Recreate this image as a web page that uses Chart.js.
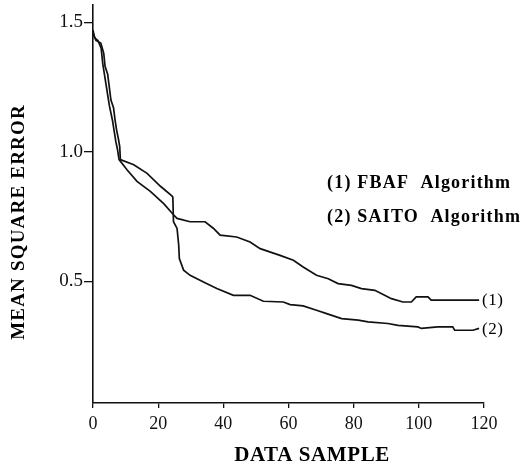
<!DOCTYPE html>
<html>
<head>
<meta charset="utf-8">
<script src="https://cdn.jsdelivr.net/npm/chart.js@4/dist/chart.umd.min.js"></script>
<style>
html,body{margin:0;padding:0;background:#fff;}
#wrap{width:521px;height:470px;}
</style>
</head>
<body>
<div id="wrap"><canvas id="c" width="521" height="470"></canvas></div>
<script>
// ---- data ----
const fbafSamples = [0, 0.5, 1.5, 2.5, 3, 3.5, 4, 4.5, 5, 5.5, 6, 6.5, 7, 7.5, 8, 10.5, 13.5, 17.6, 21.7, 24.7, 25.8, 29.8, 34.4, 37, 39, 44.1, 48.2, 51.3, 57.4, 61.5, 64.5, 68.6, 72.2, 75.2, 79.3, 82.4, 86.5, 89.5, 91.6, 95.1, 97.7, 99.2, 102.8, 103.8, 118.5];
const fbafMse = [1.47, 1.44, 1.43, 1.40, 1.34, 1.30, 1.26, 1.22, 1.18, 1.15, 1.12, 1.08, 1.04, 1.01, 0.97, 0.93, 0.886, 0.847, 0.80, 0.757, 0.743, 0.73, 0.73, 0.704, 0.678, 0.671, 0.652, 0.626, 0.60, 0.581, 0.555, 0.523, 0.51, 0.491, 0.484, 0.472, 0.465, 0.446, 0.433, 0.42, 0.42, 0.44, 0.44, 0.427, 0.427];

const saitoSamples = [0, 0.9, 2.4, 3.3, 3.7, 4.5, 5.0, 5.5, 6.3, 6.8, 7.3, 7.8, 8.2, 8.4, 12.5, 16.6, 20.7, 24.2, 24.5, 24.7, 25.8, 26.3, 26.5, 27.8, 29.8, 33.9, 38, 43.1, 48.2, 52.3, 58.4, 60.5, 64.5, 68.6, 71.7, 76.3, 81.4, 84.4, 90.5, 93.6, 99.7, 100.8, 105.8, 110.4, 111, 116.6, 118.5];
const saitoMse = [1.46, 1.43, 1.42, 1.38, 1.33, 1.30, 1.25, 1.20, 1.17, 1.12, 1.08, 1.05, 1.02, 0.97, 0.95, 0.917, 0.867, 0.83, 0.825, 0.73, 0.704, 0.64, 0.588, 0.543, 0.523, 0.497, 0.472, 0.446, 0.446, 0.423, 0.42, 0.41, 0.405, 0.388, 0.375, 0.356, 0.35, 0.343, 0.337, 0.33, 0.324, 0.318, 0.324, 0.324, 0.311, 0.311, 0.318];

const xTicks = [0, 20, 40, 60, 80, 100, 120];
const yTicks = [0.5, 1.0, 1.5];
const yTickLabels = ['0.5', '1.0', '1.5'];
const legendLines = ['(1) FBAF  Algorithm', '(2) SAITO  Algorithm'];
const endLabels = ['(1)', '(2)'];
const xTitle = 'DATA SAMPLE';
const yTitle = 'MEAN SQUARE ERROR';

const toPts = (xs, ys) => xs.map((x, i) => ({x: x, y: ys[i]}));
const SERIF = '"Liberation Serif", "DejaVu Serif", serif';

const textPlugin = {
  id: 'texts',
  afterDraw(chart) {
    const ctx = chart.ctx;
    const xs = chart.scales.x, ys = chart.scales.y;
    ctx.save();
    ctx.fillStyle = '#000';
    // legend text
    ctx.font = 'bold 18px ' + SERIF;
    ctx.textAlign = 'left';
    ctx.textBaseline = 'middle';
    ctx.letterSpacing = '1.2px';
    ctx.fillText(legendLines[0], 327, 183);
    ctx.fillText(legendLines[1], 327, 217);
    // curve end labels
    ctx.letterSpacing = '0.5px';
    ctx.font = '17px ' + SERIF;
    const d1 = chart.data.datasets[0].data, d2 = chart.data.datasets[1].data;
    const l1 = d1[d1.length - 1], l2 = d2[d2.length - 1];
    ctx.fillText(endLabels[0], xs.getPixelForValue(l1.x) + 3, ys.getPixelForValue(l1.y));
    ctx.fillText(endLabels[1], xs.getPixelForValue(l2.x) + 3, ys.getPixelForValue(l2.y) + 1);
    // x axis title
    ctx.font = 'bold 21px ' + SERIF;
    ctx.letterSpacing = '0.6px';
    ctx.textAlign = 'center';
    ctx.fillText(xTitle, 312, 456);
    // y axis title
    ctx.translate(19, 222);
    ctx.rotate(-Math.PI / 2);
    ctx.font = 'bold 19px ' + SERIF;
    ctx.letterSpacing = '1.2px';
    ctx.fillText(yTitle, 0, 0);
    ctx.restore();
  }
};

new Chart(document.getElementById('c'), {
  type: 'scatter',
  data: {
    datasets: [
      {label: 'FBAF Algorithm', data: toPts(fbafSamples, fbafMse), showLine: true, borderColor: '#111', borderWidth: 1.7, pointRadius: 0, tension: 0, fill: false},
      {label: 'SAITO Algorithm', data: toPts(saitoSamples, saitoMse), showLine: true, borderColor: '#111', borderWidth: 1.7, pointRadius: 0, tension: 0, fill: false}
    ]
  },
  options: {
    responsive: false,
    animation: false,
    layout: {padding: {left: 0, top: 5, right: 37, bottom: 0}},
    plugins: {legend: {display: false}, tooltip: {enabled: false}},
    scales: {
      x: {
        type: 'linear', min: 0, max: 120,
        afterBuildTicks: s => { s.ticks = xTicks.map(v => ({value: v})); },
        afterFit: s => { s.height = 67; s.paddingLeft = 0; s.paddingRight = 0; },
        ticks: {color: '#111', font: {family: SERIF, size: 18}, padding: 5, maxRotation: 0},
        grid: {drawOnChartArea: false, drawTicks: true, tickLength: 5, color: '#111', lineWidth: 1.3},
        border: {display: true, color: '#111', width: 1.6}
      },
      y: {
        type: 'linear', min: 0.03, max: 1.567,
        afterBuildTicks: s => { s.ticks = yTicks.map(v => ({value: v})); },
        afterFit: s => { s.width = 93; s.paddingTop = 0; s.paddingBottom = 0; },
        ticks: {color: '#111', font: {family: SERIF, size: 19}, padding: 1,
          callback: (v) => { const i = yTicks.indexOf(v); return i >= 0 ? yTickLabels[i] : ''; }},
        grid: {drawOnChartArea: false, drawTicks: true, tickLength: 9, color: '#111', lineWidth: 1.3},
        border: {display: true, color: '#111', width: 1.6}
      }
    }
  },
  plugins: [textPlugin]
});
</script>
</body>
</html>
